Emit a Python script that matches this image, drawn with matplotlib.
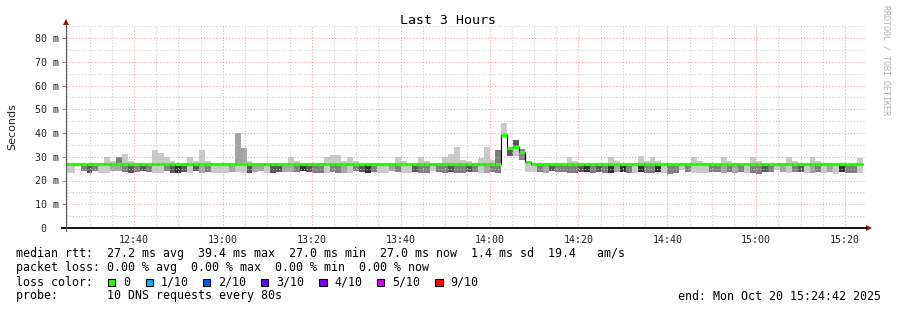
import matplotlib
matplotlib.use("Agg")
import matplotlib.pyplot as plt
from matplotlib.patches import Rectangle, Polygon
from matplotlib.lines import Line2D

W, H = 897, 310
MONO = "DejaVu Sans Mono"

# ---- data (SmokePing, 80 s steps, ms) ----
# smoke per step: top of smoke above median / bottom below median,
# and the smoke band (1 = outer/light .. 5 = inner/dark)
hi = [27, 27, 27, 27, 27, 27, 30, 28.2, 30, 31,
      28.2, 27, 27, 27, 33, 31.6, 30, 28.2, 27, 27,
      30, 28.2, 33, 28.4, 27, 27, 27, 27, 39.9, 33.8,
      28.2, 27, 27, 27, 27, 27, 27, 30, 28.2, 27,
      27, 27, 27, 30, 30.7, 30.7, 28.2, 30, 28.2, 27,
      27, 27, 27, 27, 27, 30, 28.2, 27, 27, 30,
      28.2, 27, 27, 30, 31, 34.2, 28.8, 28.2, 27, 29.3,
      34, 28.6, 33, 44.2, 33.7, 37, 33.4, 27.9, 27, 27,
      27, 27, 27, 27, 30, 28.2, 27, 27, 27, 27,
      27, 30, 28.2, 27, 27, 27, 30.5, 28.2, 30, 28.2,
      27, 27, 27, 27, 27, 30, 28.2, 27, 27, 27,
      30, 28.2, 27, 27, 27, 30, 28.2, 27, 27, 27,
      27, 30, 28.2, 27, 27, 30, 28.2, 27, 27, 27,
      27, 27, 27, 29.3]
up = [0, 0, 0, 0, 0, 0, 1, 1, 3, 1,
      1, 0, 0, 0, 1, 1, 1, 1, 0, 0,
      1, 1, 1, 1, 0, 0, 0, 0, 2, 2,
      1, 0, 0, 0, 0, 0, 0, 1, 1, 0,
      0, 0, 0, 1, 1, 1, 1, 1, 1, 0,
      0, 0, 0, 0, 0, 1, 1, 0, 0, 1,
      1, 0, 0, 1, 1, 1, 1, 1, 0, 1,
      1, 1, 3, 1, 0, 4, 3, 0, 0, 0,
      0, 0, 0, 0, 1, 1, 0, 0, 0, 0,
      0, 1, 1, 0, 0, 0, 1, 1, 1, 1,
      0, 0, 0, 0, 0, 1, 1, 0, 0, 0,
      1, 1, 0, 0, 0, 1, 1, 0, 0, 0,
      0, 1, 1, 0, 0, 1, 1, 0, 0, 0,
      0, 0, 0, 1]
lo = [23.0, 26.5, 24.0, 23.0, 23.8, 23.3, 23.3, 24.0, 24.0, 23.5,
      23.3, 23.5, 24.0, 23.5, 23.3, 23.3, 24.0, 23.3, 23.0, 23.5,
      23.3, 24.0, 23.3, 23.5, 23.3, 23.3, 23.3, 23.5, 23.5, 23.3,
      23.3, 23.5, 24.0, 23.3, 23.3, 23.5, 23.5, 23.5, 23.5, 24.0,
      23.5, 23.3, 23.3, 23.3, 23.5, 23.3, 23.3, 23.3, 24.0, 23.5,
      23.0, 23.5, 23.3, 23.3, 24.0, 23.5, 23.3, 23.3, 23.5, 23.3,
      23.3, 24.0, 23.5, 23.3, 23.5, 23.3, 23.3, 23.5, 23.5, 23.3,
      23.3, 23.5, 23.3, 39.2, 30.4, 30.4, 28.6, 23.7, 23.7, 23.5,
      23.3, 24.0, 23.5, 23.5, 23.3, 23.3, 23.5, 23.5, 23.3, 23.5,
      23.3, 23.3, 23.5, 23.5, 23.3, 23.3, 23.5, 23.3, 23.3, 23.5,
      23.3, 22.8, 23.3, 24.5, 23.5, 23.3, 23.3, 23.3, 23.5, 23.5,
      23.3, 23.5, 23.3, 23.5, 23.3, 23.3, 22.8, 23.5, 23.5, 24.5,
      23.5, 23.3, 23.5, 23.5, 23.3, 23.3, 23.5, 23.3, 23.5, 22.8,
      23.5, 23.3, 23.3, 23.3]
dn = [1, 1, 3, 4, 3, 1, 1, 2, 2, 3,
      4, 3, 4, 3, 1, 1, 3, 4, 5, 4,
      1, 4, 2, 3, 1, 1, 1, 2, 1, 1,
      4, 2, 2, 1, 4, 4, 2, 2, 3, 5,
      4, 3, 3, 1, 3, 3, 2, 1, 3, 4,
      5, 3, 1, 1, 2, 3, 1, 1, 4, 3,
      3, 1, 3, 3, 4, 3, 3, 4, 3, 1,
      2, 3, 3, 0, 4, 1, 3, 1, 1, 3,
      2, 4, 3, 3, 3, 3, 4, 5, 3, 4,
      3, 5, 2, 5, 3, 1, 5, 3, 3, 5,
      1, 3, 3, 1, 3, 1, 1, 1, 3, 3,
      2, 3, 2, 3, 1, 3, 3, 4, 3, 1,
      2, 1, 3, 4, 1, 2, 3, 1, 2, 1,
      5, 3, 3, 1]
# median rtt per step (ms)
median = [27.0] * 73 + [39.2, 33.7, 34.0, 32.0, 27.9] + [27.0] * 56

y_ticks = [0, 10, 20, 30, 40, 50, 60, 70, 80]
y_labels = ["0  ", "10 m", "20 m", "30 m", "40 m", "50 m", "60 m", "70 m", "80 m"]
x_labels = ["12:40", "13:00", "13:20", "13:40", "14:00", "14:20", "14:40", "15:00", "15:20"]

stats_rtt = "median rtt:  27.2 ms avg  39.4 ms max  27.0 ms min  27.0 ms now  1.4 ms sd  19.4   am/s"
stats_loss = "packet loss: 0.00 % avg  0.00 % max  0.00 % min  0.00 % now"
loss_names = ["0", "1/10", "2/10", "3/10", "4/10", "5/10", "9/10"]
loss_colors = ["#26ff00", "#00b8ff", "#0059ff", "#5e00ff", "#7e00ff", "#dd00ff", "#ff0000"]
probe_txt = "probe:       10 DNS requests every 80s"
end_txt = "end: Mon Oct 20 15:24:42 2025"

# ---- time axis: seconds since 12:24:42 ----
SPAN = 3 * 3600
STEP = 80
FIRST = 117.5          # first step boundary inside the window
FIRST_TICK = 15 * 60 + 18   # 12:40:00

edges = [0.0] + [FIRST + STEP * j for j in range(len(median))]
left = edges[:-1]
widths = [edges[i + 1] - edges[i] for i in range(len(median))]


def band_gray(i):
    # smokeping style: outer bands light, inner bands dark
    g = int(190 / 5 * (5 - i)) + 50
    return "#%02x%02x%02x" % (g, g, g)


def px(x, y):
    return x / W, 1 - y / H


fig = plt.figure(figsize=(W / 100, H / 100), dpi=100)
fig.patch.set_facecolor("white")
ax = fig.add_axes([66 / W, (H - 228) / H, 800 / W, (228 - 25) / H])
ax.set_xlim(0, SPAN)
ax.set_ylim(0, 203 / 2.375)

# smoke
lo_h = [m - l for m, l in zip(median, lo)]
up_h = [h - m for h, m in zip(hi, median)]
ax.bar(left, lo_h, width=widths, bottom=lo, align="edge", linewidth=0,
       color=[band_gray(b) if b else "white" for b in dn], antialiased=False, zorder=1)
ax.bar(left, up_h, width=widths, bottom=median, align="edge", linewidth=0,
       color=[band_gray(b) if b else "white" for b in up], antialiased=False, zorder=1)

# grid
xt = [FIRST_TICK + 1200 * k for k in range(len(x_labels))]
ax.set_xticks(xt)
ax.set_xticklabels(x_labels)
ax.set_xticks([18 + 300 * k for k in range(36)], minor=True)
ax.set_yticks(y_ticks)
ax.set_yticklabels(y_labels)
ax.set_yticks([5 + 10 * k for k in range(9)], minor=True)
ax.grid(which="major", color="#f0a0a0", linestyle=(0, (1, 2)), linewidth=0.75, zorder=2)
ax.grid(which="minor", color="#c8c8c8", linestyle=(0, (1, 2)), linewidth=0.75, zorder=2)
ax.set_axisbelow(False)

# median: thin black step line + thick green segments
ax.stairs(median, edges, baseline=None, color="black", linewidth=0.8, zorder=3)
ax.hlines(median, left, edges[1:], color=loss_colors[0], linewidth=2.3,
          capstyle="butt", zorder=4)

for s in ax.spines.values():
    s.set_visible(False)
ax.tick_params(axis="x", which="both", length=0, pad=5, labelsize=7.2, labelcolor="#222")
ax.tick_params(axis="y", which="major", length=3, width=0.7, color="#888", pad=2,
               labelsize=7.2, labelcolor="#222")
ax.tick_params(axis="y", which="minor", length=0)
for lab in ax.get_xticklabels() + ax.get_yticklabels():
    lab.set_family(MONO)

# axes lines and arrows
fig.add_artist(Line2D([px(62, 0)[0], px(866, 0)[0]], [px(0, 228)[1]] * 2, color="black", lw=1.3))
fig.add_artist(Line2D([px(66, 0)[0]] * 2, [px(0, 231)[1], px(0, 24)[1]], color="#555", lw=0.8))
fig.add_artist(Polygon([px(866, 225), px(866, 231), px(872, 228)], closed=True,
                       color="#8b1010", lw=0))
fig.add_artist(Polygon([px(63, 25), px(69, 25), px(66, 19)], closed=True,
                       color="#8b1010", lw=0))

# title, labels, watermark
fig.text(*px(448, 20), "Last 3 Hours", ha="center", va="center", family=MONO, fontsize=9.5)
fig.text(*px(12, 127), "Seconds", rotation=90, ha="center", va="center",
         family="DejaVu Sans", fontsize=8, color="#222")
fig.text(*px(886, 5), "RRDTOOL / TOBI OETIKER", rotation=270, ha="center", va="top",
         family=MONO, fontsize=6, color="#b0b0b0")

# legend block
fs = 8.4
cw = 7.02
fig.text(*px(16, 254), stats_rtt, va="center", family=MONO, fontsize=fs)
fig.text(*px(16, 268), stats_loss, va="center", family=MONO, fontsize=fs)
fig.text(*px(16, 282), "loss color:", va="center", family=MONO, fontsize=fs)
box_cols = [13.1, 18.5, 26.6, 34.9, 43.2, 51.4, 59.7]
for c, name, col in zip(box_cols, loss_names, loss_colors):
    bx = 16 + c * cw
    fig.add_artist(Rectangle(px(bx, 286), 7.5 / W, 7.5 / H, facecolor=col,
                             edgecolor="black", lw=0.8))
    fig.text(*px(bx + 15, 282), name, va="center", family=MONO, fontsize=fs)
fig.text(*px(16, 296), probe_txt, va="center", family=MONO, fontsize=fs)
fig.text(*px(881, 296), end_txt, ha="right", va="center", family=MONO, fontsize=fs)

fig.savefig("out.png", dpi=100, facecolor="white")
